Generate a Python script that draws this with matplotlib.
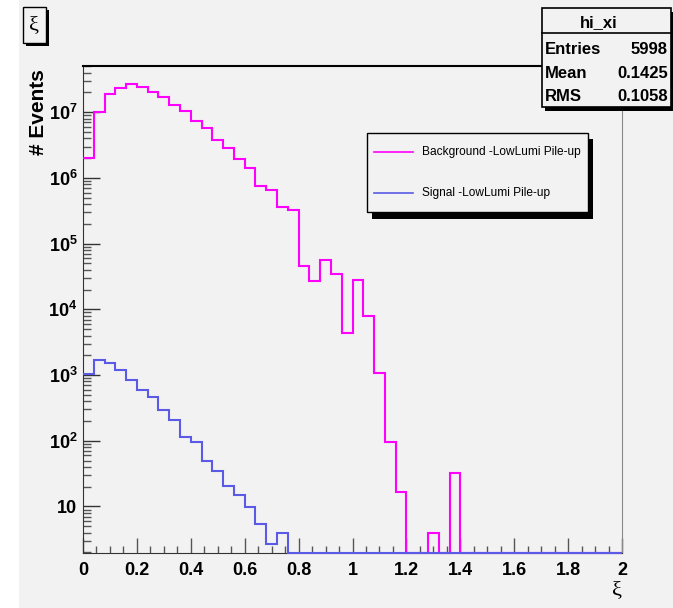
import numpy as np
import matplotlib
matplotlib.use("Agg")
import matplotlib.pyplot as plt
from matplotlib import font_manager
from matplotlib.patches import Rectangle
from matplotlib.lines import Line2D
from matplotlib.ticker import FixedLocator, LogLocator, MultipleLocator, NullFormatter

# --- data (50 bins of 0.04 in xi) ---
xi_min, xi_max, n_bins = 0.0, 2.0, 50

background = [2.0e6, 1.0e7, 1.92e7, 2.35e7, 2.67e7, 2.45e7, 2.06e7, 1.69e7, 1.29e7, 1.05e7,
              7.3e6, 5.7e6, 3.8e6, 2.83e6, 1.93e6, 1.41e6, 7.6e5, 6.5e5, 3.66e5, 3.26e5,
              4.6e4, 2.68e4, 5.65e4, 3.5e4, 4.3e3, 2.77e4, 7.9e3, 1.09e3, 97, 16.4,
              0, 0, 4, 0, 32.7, 0, 0, 0, 0, 0,
              0, 0, 0, 0, 0, 0, 0, 0, 0, 0]

signal = [1.03e3, 1.70e3, 1.51e3, 1.18e3, 850, 593, 464, 298, 210, 114,
          97, 48.7, 35, 20.5, 15.1, 9.9, 5.4, 2.7, 4.0, 0,
          0, 0, 0, 0, 0, 0, 0, 0, 0, 0,
          0, 0, 0, 0, 0, 0, 0, 0, 0, 0,
          0, 0, 0, 0, 0, 0, 0, 0, 0, 0]

series_names = ["Background -LowLumi Pile-up", "Signal -LowLumi Pile-up"]
series_colors = ["#ff00ff", "#5a5ae6"]

y_decades = [10, 1e2, 1e3, 1e4, 1e5, 1e6, 1e7]
y_decade_labels = ["10"] + [r"$\mathdefault{10^{%d}}$" % k for k in range(2, 8)]
x_ticks = [0, 0.2, 0.4, 0.6, 0.8, 1.0, 1.2, 1.4, 1.6, 1.8, 2.0]
x_tick_labels = ["0", "0.2", "0.4", "0.6", "0.8", "1", "1.2", "1.4", "1.6", "1.8", "2"]

hist_name = "hi_xi"
stats_rows = [("Entries", "5998"), ("Mean", "0.1425"), ("RMS", "0.1058")]


def have_font(name):
    try:
        font_manager.findfont(name, fallback_to_default=False)
        return True
    except ValueError:
        return False


narrow = "Liberation Sans Narrow" if have_font("Liberation Sans Narrow") else "Liberation Sans"
plt.rcParams["font.family"] = [narrow, "Liberation Sans", "DejaVu Sans"]
plt.rcParams["font.weight"] = "bold"
tick_size = 14 if narrow == "Liberation Sans Narrow" else 13

W, H = 673, 608
bg = "#f2f2f2"
fig = plt.figure(figsize=(W / 100, H / 100), dpi=100, facecolor=bg)


def box(x0, y0, x1, y1, **kw):
    # pixel box (top-left origin) -> figure rectangle
    r = Rectangle((x0 / W, 1 - y1 / H), (x1 - x0) / W, (y1 - y0) / H,
                  transform=fig.transFigure, **kw)
    fig.add_artist(r)
    return r


def ftext(x, y, s, **kw):
    return fig.text(x / W, 1 - y / H, s, **kw)


# white strip on the left of the canvas
box(0, 0, 18.5, H, facecolor="white", edgecolor="none", zorder=0)

ax = fig.add_axes([83 / W, 1 - 553 / H, (622 - 83) / W, (553 - 66.3) / H])
ax.set_facecolor(bg)
ax.set_yscale("log")
ax.set_xlim(xi_min, xi_max)
ax.set_ylim(1.96, 5.0e7)

edges = np.linspace(xi_min, xi_max, n_bins + 1)
floor = ax.get_ylim()[0]
for vals, col in zip([background, signal], series_colors):
    ax.stairs(np.maximum(vals, floor), edges, baseline=None, color=col,
              linewidth=1.5, clip_on=False, zorder=3)

# axes look (ROOT style)
for s in ["left", "bottom"]:
    ax.spines[s].set_color("#333333")
ax.spines["top"].set_color("black")
ax.spines["top"].set_linewidth(1.5)
ax.spines["right"].set_color("#888888")

ax.xaxis.set_major_locator(FixedLocator(x_ticks))
ax.set_xticklabels(x_tick_labels)
ax.xaxis.set_minor_locator(MultipleLocator(0.05))
ax.yaxis.set_major_locator(FixedLocator(y_decades))
ax.set_yticklabels(y_decade_labels)
ax.yaxis.set_minor_locator(LogLocator(base=10, subs=np.arange(2, 10)))
ax.yaxis.set_minor_formatter(NullFormatter())

ax.tick_params(axis="x", which="major", direction="in", length=11, width=1,
               color="#555555", top=False, pad=6.5, labelsize=tick_size)
ax.tick_params(axis="x", which="minor", direction="in", length=5, width=1,
               color="#555555", top=False)
ax.tick_params(axis="y", which="major", direction="in", length=12, width=1,
               color="#333333", right=False, pad=4, labelsize=tick_size)
ax.tick_params(axis="y", which="minor", direction="in", length=6, width=1,
               color="#555555", right=False)

# axis titles
ftext(39, 112, "# Events", rotation=90, ha="center", va="center", fontsize=15,
      fontweight="bold", family=["Liberation Sans", "DejaVu Sans"])
ftext(622, 591, "ξ", ha="right", va="center", fontsize=16, fontweight="normal",
      family=["Liberation Serif", "DejaVu Serif"])

# title box
box(25.7, 10.3, 49, 45.5, facecolor="black", edgecolor="none", zorder=4)
box(22.7, 7.3, 46, 42.7, facecolor=bg, edgecolor="black", linewidth=1, zorder=5)
ftext(34.5, 25.5, "ξ", ha="center", va="center", fontsize=16, fontweight="normal",
      family=["Liberation Serif", "DejaVu Serif"], zorder=6)

# stats box
box(545, 12, 676, 111, facecolor="black", edgecolor="none", zorder=4)
box(541.5, 8, 671, 106.5, facecolor=bg, edgecolor="black", linewidth=1.2, zorder=5)
fig.add_artist(Line2D([541.5 / W, 671 / W], [1 - 32.5 / H] * 2, color="black",
                      linewidth=1.2, transform=fig.transFigure, zorder=6))
ftext(599, 27, hist_name, ha="center", va="baseline", fontsize=12,
      family=["Liberation Sans", "DejaVu Sans"], zorder=7)
for (name, val), yb in zip(stats_rows, [53.5, 78.5, 101]):
    ftext(544.5, yb, name, ha="left", va="baseline", fontsize=12,
          family=["Liberation Sans", "DejaVu Sans"], zorder=7)
    ftext(668, yb, val, ha="right", va="baseline", fontsize=12,
          family=["Liberation Sans", "DejaVu Sans"], zorder=7)

# legend (ROOT TLegend with shadow)
box(372, 139, 593, 218.5, facecolor="black", edgecolor="none", zorder=4)
box(367, 133.3, 588.3, 212.3, facecolor=bg, edgecolor="black", linewidth=1, zorder=5)
leg_size = 9.5 if narrow == "Liberation Sans Narrow" else 8.6
for name, col, yl in zip(series_names, series_colors, [152.3, 193.3]):
    fig.add_artist(Line2D([374 / W, 413 / W], [1 - yl / H] * 2, color=col,
                          linewidth=1.2, transform=fig.transFigure, zorder=6))
    ftext(422, yl, name, ha="left", va="center", fontsize=leg_size, fontweight="normal",
          zorder=7)

fig.savefig("out.png", dpi=100, facecolor=fig.get_facecolor())
